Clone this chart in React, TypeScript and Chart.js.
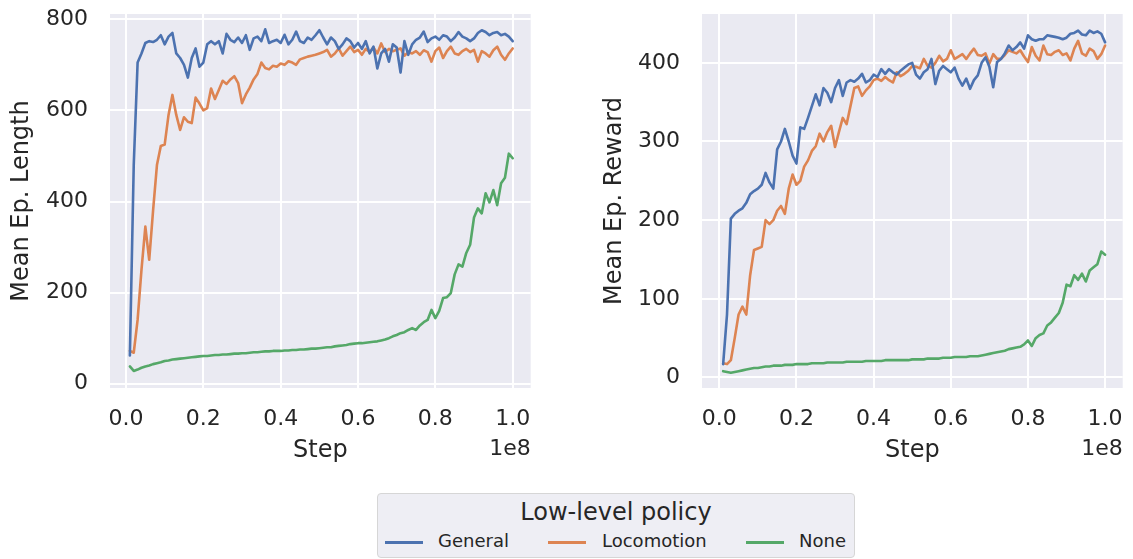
import React, { useEffect, useRef } from "react";
import { Chart, registerables } from "chart.js";

Chart.register(...registerables);
Chart.defaults.font.family = "'DejaVu Sans', sans-serif";

// Training steps (1e6 .. 1e8)
const STEPS: number[] = Array.from({ length: 100 }, (_, i) => (i + 1) * 1e6);

const SERIES_NAMES = ["General", "Locomotion", "None"];
const COLORS = ["#4C72B0", "#DD8452", "#55A868"];

// Mean episode length
const LEN_GENERAL = [
  62, 480, 705, 725, 748, 752, 750, 755, 765, 745,
  762, 770, 725, 715, 700, 672, 715, 736, 696, 705,
  745, 752, 745, 752, 725, 768, 755, 750, 760, 748,
  765, 733, 758, 762, 752, 778, 748, 752, 755, 748,
  766, 745, 755, 773, 752, 748, 760, 755, 765, 776,
  760, 745, 760, 752, 735, 745, 758, 752, 738, 748,
  735, 752, 725, 740, 692, 725, 735, 707, 745, 738,
  683, 752, 722, 745, 755, 760, 773, 750, 758, 762,
  755, 765, 762, 752, 760, 772, 762, 758, 752, 758,
  770, 776, 772, 765, 770, 772, 765, 768, 762, 752,
];
const LEN_LOCOMOTION = [
  72, 68, 140, 250, 345, 272, 380, 480, 522, 525,
  590, 634, 590, 557, 585, 575, 572, 628, 615, 600,
  605, 648, 625, 645, 665, 658, 668, 675, 660, 616,
  635, 650, 668, 680, 705, 693, 690, 698, 696, 703,
  700, 708, 705, 700, 712, 715, 718, 720, 722, 725,
  728, 733, 718, 725, 736, 720, 730, 740, 728, 733,
  722, 735, 728, 738, 725, 747, 728, 735, 730, 733,
  736, 720, 728, 725, 730, 722, 732, 728, 707, 730,
  738, 715, 730, 740, 725, 722, 730, 735, 728, 733,
  707, 730, 725, 718, 732, 740, 722, 711, 725, 736,
];
const LEN_NONE = [
  38, 28, 31, 35, 38, 40, 43, 45, 47, 50,
  51, 53, 54, 55, 56, 57, 58, 59, 60, 61,
  61, 62, 63, 63, 64, 64, 65, 66, 66, 67,
  67, 68, 69, 69, 70, 71, 71, 72, 72, 72,
  73, 73, 74, 74, 75, 75, 76, 77, 77, 78,
  79, 80, 80, 82, 83, 84, 85, 87, 88, 89,
  89, 90, 91, 92, 93, 95, 97, 100, 104, 107,
  111, 113, 118, 122, 118, 128, 135, 140, 162, 144,
  160, 188, 190, 199, 240, 262, 257, 287, 305, 365,
  385, 374, 418, 398, 425, 392, 440, 452, 505, 495,
];

// Mean episode reward
const REW_GENERAL = [
  17, 80, 202, 208, 212, 215, 222, 233, 237, 240,
  245, 260, 248, 240, 290, 300, 316, 300, 282, 272,
  318, 316, 330, 345, 360, 346, 368, 362, 350, 368,
  378, 358, 375, 378, 376, 380, 386, 375, 378, 385,
  382, 392, 386, 392, 388, 385, 390, 394, 398, 400,
  385, 380, 388, 392, 405, 373, 390, 396, 392, 388,
  394, 380, 371, 380, 367, 378, 384, 400, 407, 395,
  369, 401, 405, 412, 422, 416, 420, 426, 418, 435,
  430, 428, 430, 430, 435, 434, 433, 432, 430, 432,
  437, 438, 441, 436, 435, 441, 438, 440, 437, 426,
];
const REW_LOCOMOTION = [
  18, 17, 22, 50, 80, 90, 80, 130, 162, 164,
  166, 200, 195, 200, 212, 218, 208, 240, 258, 245,
  250, 268, 276, 288, 294, 310, 300, 312, 320, 293,
  312, 330, 322, 345, 368, 370, 358, 365, 370, 378,
  380, 377, 382, 378, 375, 388, 383, 386, 390, 396,
  395, 393, 405, 396, 394, 400, 409, 402, 405, 416,
  405, 408, 411, 405, 412, 418, 410, 409, 412, 399,
  411, 405, 405, 410, 416, 414, 412, 416, 408, 401,
  420, 409, 403, 422, 411, 410, 414, 416, 410, 412,
  403, 418, 428, 412, 409, 418, 415, 405, 411, 422,
];
const REW_NONE = [
  8, 7, 6, 7, 8, 9, 10, 11, 12, 12,
  13, 14, 14, 15, 15, 15, 16, 16, 16, 17,
  17, 17, 17, 18, 18, 18, 18, 19, 19, 19,
  19, 19, 20, 20, 20, 20, 20, 21, 21, 21,
  21, 21, 22, 22, 22, 22, 22, 22, 22, 23,
  23, 23, 23, 24, 24, 24, 24, 25, 25, 25,
  26, 26, 26, 26, 27, 27, 27, 28, 29, 30,
  31, 32, 33, 34, 36, 37, 38, 39, 42, 47,
  40, 50, 54, 56, 66, 70, 76, 82, 95, 118,
  116, 130, 124, 132, 122, 136, 140, 144, 160, 156,
];

const X_TICKS = [0, 0.2e8, 0.4e8, 0.6e8, 0.8e8, 1.0e8];
const LEN_TICKS = [0, 200, 400, 600, 800];
const REW_TICKS = [0, 100, 200, 300, 400];

const TEXT = "#262626";
const BG = "#EAEAF2";

const bgPlugin = {
  id: "bg",
  beforeDraw(chart: any) {
    const { ctx, chartArea } = chart;
    ctx.save();
    ctx.fillStyle = BG;
    ctx.fillRect(chartArea.left, chartArea.top, chartArea.right - chartArea.left, chartArea.bottom - chartArea.top);
    ctx.restore();
  },
};

const offsetPlugin = {
  id: "offsetText",
  afterDraw(chart: any) {
    const { ctx, chartArea } = chart;
    ctx.save();
    ctx.font = "22px 'DejaVu Sans'";
    ctx.fillStyle = TEXT;
    ctx.textAlign = "right";
    ctx.textBaseline = "alphabetic";
    ctx.fillText("1e8", chartArea.right, 455);
    ctx.restore();
  },
};

function makeConfig(series: number[][], yLabel: string, yTicks: number[], yMin: number, yMax: number, xMin: number, xMax: number, padLeft: number, padRight: number, yWidth: number) {
  return {
    type: "line" as const,
    data: {
      datasets: series.map((vals, k) => ({
        label: SERIES_NAMES[k],
        data: STEPS.map((s, i) => ({ x: s, y: vals[i] })),
        borderColor: COLORS[k],
        backgroundColor: COLORS[k],
        borderWidth: 2.6,
        pointRadius: 0,
        tension: 0,
        fill: false,
        borderJoinStyle: "round" as const,
        borderCapStyle: "round" as const,
      })),
    },
    options: {
      responsive: false,
      animation: false as const,
      layout: { padding: { left: padLeft, top: 14, right: padRight, bottom: 0 } },
      plugins: { legend: { display: false }, tooltip: { enabled: false } },
      scales: {
        x: {
          type: "linear" as const,
          min: xMin,
          max: xMax,
          afterBuildTicks: (s: any) => {
            s.ticks = X_TICKS.map((v) => ({ value: v }));
          },
          afterFit: (s: any) => {
            s.height = 82;
            s.paddingLeft = 0;
            s.paddingRight = 0;
          },
          grid: { color: "#ffffff", lineWidth: 2, drawTicks: false },
          border: { display: false },
          ticks: {
            padding: 18,
            color: TEXT,
            font: { size: 22 },
            maxRotation: 0,
            autoSkip: false,
            callback: (v: any) => (Number(v) / 1e8).toFixed(1),
          },
          title: { display: true, text: "Step", color: TEXT, font: { size: 24 }, padding: { top: 0, bottom: 5 } },
        },
        y: {
          type: "linear" as const,
          min: yMin,
          max: yMax,
          afterBuildTicks: (s: any) => {
            s.ticks = yTicks.map((v) => ({ value: v }));
          },
          afterFit: (s: any) => {
            s.width = yWidth;
            s.paddingTop = 0;
            s.paddingBottom = 0;
          },
          grid: { color: "#ffffff", lineWidth: 2, drawTicks: false },
          border: { display: false },
          ticks: {
            padding: 22,
            color: TEXT,
            font: { size: 22 },
            autoSkip: false,
            callback: (v: any) => String(v),
          },
          title: { display: true, text: yLabel, color: TEXT, font: { size: 24 }, padding: { top: 7, bottom: 0 } },
        },
      },
    },
    plugins: [bgPlugin, offsetPlugin],
  };
}

function ChartCanvas(props: { config: any; left: number; width: number; height: number }) {
  const ref = useRef<HTMLCanvasElement>(null);
  useEffect(() => {
    if (!ref.current) return;
    const chart = new Chart(ref.current, props.config);
    return () => chart.destroy();
  }, []);
  return (
    <canvas
      ref={ref}
      width={props.width}
      height={props.height}
      style={{ position: "absolute", left: props.left, top: 0, width: props.width, height: props.height }}
    />
  );
}

const leftConfig = makeConfig(
  [LEN_GENERAL, LEN_LOCOMOTION, LEN_NONE],
  "Mean Ep. Length",
  LEN_TICKS,
  -9.4,
  811.6,
  -0.0414e8,
  1.0466e8,
  0,
  29.3,
  110
);
const rightConfig = makeConfig(
  [REW_GENERAL, REW_LOCOMOTION, REW_NONE],
  "Mean Ep. Reward",
  REW_TICKS,
  -13.4,
  462.1,
  -0.0448e8,
  1.0456e8,
  33,
  10.3,
  109
);

const LEGEND_ITEMS = [
  { line: 385, text: 438 },
  { line: 548, text: 602 },
  { line: 746, text: 799 },
];

export default function App() {
  const font = "'DejaVu Sans', sans-serif";
  return (
    <div style={{ position: "absolute", left: 0, top: 0, width: 1133, height: 559, background: "#fff", overflow: "hidden" }}>
      <ChartCanvas config={leftConfig} left={0} width={560} height={470} />
      <ChartCanvas config={rightConfig} left={560} width={573} height={470} />
      <div
        style={{
          position: "absolute",
          left: 377,
          top: 493,
          width: 476,
          height: 63,
          border: "1px solid #d6d6d6",
          borderRadius: 4,
          background: "#EEEEF4",
        }}
      />
      <span
        style={{
          position: "absolute",
          left: 377,
          width: 478,
          textAlign: "center",
          top: 500,
          fontFamily: font,
          fontSize: 24,
          lineHeight: "24px",
          color: TEXT,
          whiteSpace: "nowrap",
        }}
      >
        Low-level policy
      </span>
      {SERIES_NAMES.map((name, k) => (
        <React.Fragment key={name}>
          <div
            style={{
              position: "absolute",
              left: LEGEND_ITEMS[k].line,
              top: 540.5,
              width: 38,
              height: 3,
              background: COLORS[k],
            }}
          />
          <span
            style={{
              position: "absolute",
              left: LEGEND_ITEMS[k].text,
              top: 532,
              fontFamily: font,
              fontSize: 18,
              lineHeight: "18px",
              color: TEXT,
              whiteSpace: "nowrap",
            }}
          >
            {name}
          </span>
        </React.Fragment>
      ))}
    </div>
  );
}
